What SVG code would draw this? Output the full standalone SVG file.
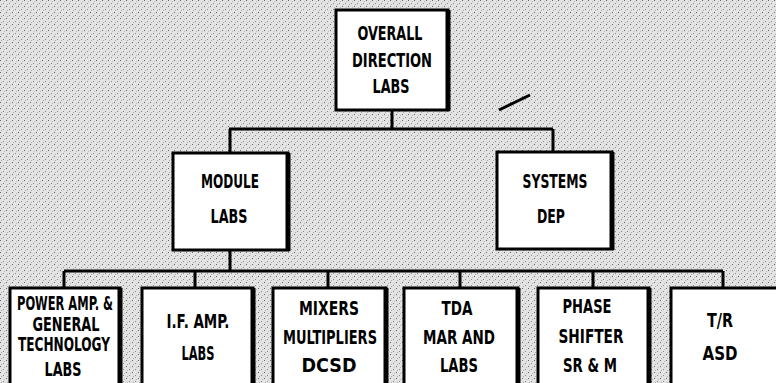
<svg xmlns="http://www.w3.org/2000/svg" width="776" height="383" viewBox="0 0 776 383">
<defs>
<pattern id="ht" width="6" height="6" patternUnits="userSpaceOnUse">
<rect width="6" height="6" fill="#e3e3e3"/>
<rect x="0" y="0" width="1" height="1" fill="#666"/>
<rect x="3" y="3" width="1" height="1" fill="#888"/>
<rect x="4" y="1" width="1" height="1" fill="#bbb"/>
<rect x="1" y="4" width="1" height="1" fill="#aaa"/>
</pattern>
</defs>
<style>
.box{fill:#fff;stroke:#000;stroke-width:3}
.sh{stroke:#000;stroke-width:5;fill:none}
.c{stroke:#000;stroke-width:3;fill:none}
text{font-family:"DejaVu Sans Condensed","DejaVu Sans",sans-serif;font-weight:bold;font-size:20px;fill:#000;text-anchor:middle}
.t{font-size:19px}
.s{font-size:19px}
</style>
<rect width="776" height="383" fill="url(#ht)"/>
<g id="connectors">
<path class="c" d="M392 110V129M229 129H553M230 129V153M553 129V152"/>
<path class="c" d="M230 250V271M64 271H723M64 271V288M195 271V288M328 271V288M460 271V288M593 271V288M723 271V288"/>
<path class="c" d="M499 110L530 95" stroke-width="2"/>
</g>
<g id="n-overall">
<rect class="box" x="336" y="10" width="112" height="100"/>
<path class="sh" d="M448 10V111"/>
<text class="t" x="390" y="40" textLength="65" lengthAdjust="spacingAndGlyphs">OVERALL</text>
<text class="t" x="392" y="67" textLength="80" lengthAdjust="spacingAndGlyphs">DIRECTION</text>
<text class="t" x="391" y="93" textLength="37" lengthAdjust="spacingAndGlyphs">LABS</text>
</g>
<g id="n-module">
<rect class="box" x="173" y="153" width="115" height="97"/>
<path class="sh" d="M288 153V251"/>
<text x="230" y="188" textLength="58" lengthAdjust="spacingAndGlyphs">MODULE</text>
<text x="229" y="223" textLength="37" lengthAdjust="spacingAndGlyphs">LABS</text>
</g>
<g id="n-systems">
<rect class="box" x="497" y="152" width="115" height="97"/>
<path class="sh" d="M612 152V250"/>
<text x="555" y="188" textLength="65" lengthAdjust="spacingAndGlyphs">SYSTEMS</text>
<text x="551" y="223" textLength="28" lengthAdjust="spacingAndGlyphs">DEP</text>
</g>
<g id="n-power">
<rect class="box" x="10" y="288" width="110" height="100"/>
<path class="sh" d="M120 288V390"/>
<text class="s" x="65" y="310" textLength="96" lengthAdjust="spacingAndGlyphs">POWER AMP. &amp;</text>
<text class="s" x="66" y="331" textLength="67" lengthAdjust="spacingAndGlyphs">GENERAL</text>
<text class="s" x="64" y="351" textLength="92" lengthAdjust="spacingAndGlyphs">TECHNOLOGY</text>
<text class="s" x="63" y="376" textLength="37" lengthAdjust="spacingAndGlyphs">LABS</text>
</g>
<g id="n-if">
<rect class="box" x="142" y="288" width="111" height="100"/>
<path class="sh" d="M253 288V390"/>
<text x="198" y="328" textLength="63" lengthAdjust="spacingAndGlyphs">I.F. AMP.</text>
<text x="198" y="360" textLength="33" lengthAdjust="spacingAndGlyphs">LABS</text>
</g>
<g id="n-mixers">
<rect class="box" x="273" y="288" width="113" height="100"/>
<path class="sh" d="M386 288V390"/>
<text x="329" y="315" textLength="60" lengthAdjust="spacingAndGlyphs">MIXERS</text>
<text x="330" y="344" textLength="94" lengthAdjust="spacingAndGlyphs">MULTIPLIERS</text>
<text x="329" y="372" textLength="55" lengthAdjust="spacingAndGlyphs">DCSD</text>
</g>
<g id="n-tda">
<rect class="box" x="404" y="288" width="114" height="100"/>
<path class="sh" d="M518 288V390"/>
<text x="457" y="315" textLength="31" lengthAdjust="spacingAndGlyphs">TDA</text>
<text x="459" y="344" textLength="72" lengthAdjust="spacingAndGlyphs">MAR AND</text>
<text x="459" y="372" textLength="38" lengthAdjust="spacingAndGlyphs">LABS</text>
</g>
<g id="n-phase">
<rect class="box" x="538" y="288" width="111" height="100"/>
<path class="sh" d="M649 288V390"/>
<text x="587" y="313" textLength="49" lengthAdjust="spacingAndGlyphs">PHASE</text>
<text x="591" y="343" textLength="65" lengthAdjust="spacingAndGlyphs">SHIFTER</text>
<text x="590" y="372" textLength="54" lengthAdjust="spacingAndGlyphs">SR &amp; M</text>
</g>
<g id="n-tr">
<rect class="box" x="671" y="288" width="110" height="100"/>
<text x="720" y="327" textLength="26" lengthAdjust="spacingAndGlyphs">T/R</text>
<text x="720" y="360" textLength="35" lengthAdjust="spacingAndGlyphs">ASD</text>
</g>
</svg>
